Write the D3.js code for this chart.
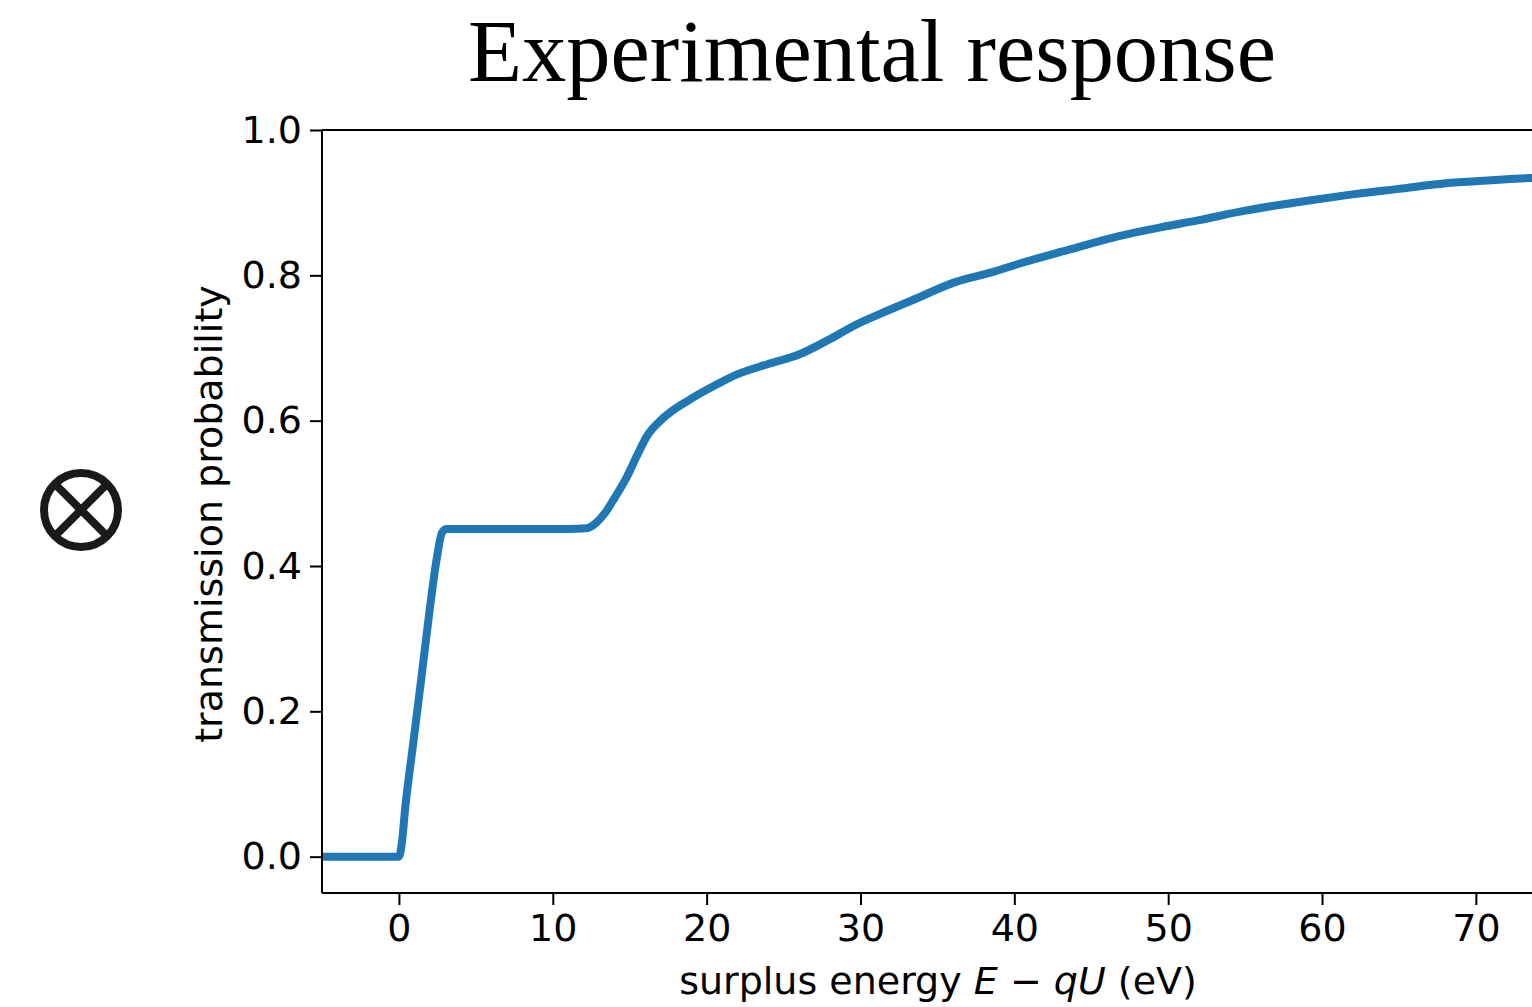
<!DOCTYPE html>
<html>
<head>
<meta charset="utf-8">
<script src="https://cdn.jsdelivr.net/npm/d3@7"></script>
<style>
  body { margin: 0; background: #fff; }
  svg { display: block; }
</style>
</head>
<body>
<svg id="svg" width="1532" height="1007"></svg>
<script>
// surplus energy (eV) and transmission probability
let energy = [-5, 0, 0.2, 0.4, 0.93, 1.47, 2.0, 2.45, 2.8, 3.1, 5, 8, 11, 12.2, 12.8, 13.4, 14.0, 14.8, 15.5, 16.1, 17.2, 18.9, 20.5, 21.9, 24, 26.0, 28, 29.7, 31.5, 33.4, 36.2, 38.5, 40.3, 43.5, 46.8, 49.5, 52.0, 55, 58.5, 61.5, 65, 68.2, 71, 73.6, 75];
let transmission = [0, 0, 0.02, 0.065, 0.156, 0.248, 0.34, 0.409, 0.446, 0.451, 0.451, 0.451, 0.451, 0.452, 0.459, 0.473, 0.493, 0.522, 0.553, 0.578, 0.604, 0.629, 0.648, 0.663, 0.678, 0.691, 0.712, 0.732, 0.749, 0.766, 0.791, 0.804, 0.816, 0.835, 0.854, 0.866, 0.876, 0.889, 0.901, 0.910, 0.919, 0.927, 0.931, 0.934, 0.936];
let xTicks = [0, 10, 20, 30, 40, 50, 60, 70];
let yTicks = [0.0, 0.2, 0.4, 0.6, 0.8, 1.0];

let svg = d3.select("#svg");
let padding = {top: 130, left: 322, bottom: 893};

let data = energy.map(function(e, i) { return {x: e, y: transmission[i]}; });

// x axis runs past the right edge of the picture (cropped)
let xScale = d3.scaleLinear().domain([-5, 75]).range([padding.left, padding.left + 80 * 15.385]);
let yScale = d3.scaleLinear().domain([-0.05, 1.0]).range([padding.bottom, padding.top]);

let fontSans = "'DejaVu Sans', sans-serif";
let fontSize = "38px";

// title
let title = svg.append("text")
  .attr("x", 872)
  .attr("y", 81)
  .attr("text-anchor", "middle")
  .style("font-family", "'Liberation Serif', serif")
  .style("font-size", "80px")
  .attr("fill", "#000")
  .text("Experimental response");
let tw = title.node().getComputedTextLength();
title.style("font-size", (80 * 808 / tw) + "px");

// the circled-times symbol on the left
let sym = svg.append("g").attr("transform", "translate(81,510)");
sym.append("circle").attr("r", 37).attr("fill", "none").attr("stroke", "#1a1a1a").attr("stroke-width", 8);
sym.append("line").attr("x1", -26).attr("y1", -26).attr("x2", 26).attr("y2", 26).attr("stroke", "#1a1a1a").attr("stroke-width", 8);
sym.append("line").attr("x1", 26).attr("y1", -26).attr("x2", -26).attr("y2", 26).attr("stroke", "#1a1a1a").attr("stroke-width", 8);

// curve
let line = d3.line()
  .x(function(d) { return xScale(d.x); })
  .y(function(d) { return yScale(d.y); })
  .curve(d3.curveMonotoneX);

svg.append("path")
  .datum(data)
  .attr("d", line)
  .attr("fill", "none")
  .attr("stroke", "#1f77b4")
  .attr("stroke-width", 8)
  .attr("stroke-linejoin", "round")
  .attr("stroke-linecap", "butt");

// axes
let xAxis = svg.append("g")
  .attr("transform", "translate(0," + padding.bottom + ")")
  .call(d3.axisBottom(xScale).tickValues(xTicks).tickSize(12).tickPadding(8).tickFormat(d3.format("d")));

let yAxis = svg.append("g")
  .attr("transform", "translate(" + padding.left + ",0)")
  .call(d3.axisLeft(yScale).tickValues(yTicks).tickSize(12).tickPadding(8).tickFormat(d3.format(".1f")));

[xAxis, yAxis].forEach(function(ax) {
  ax.select(".domain").remove();
  ax.selectAll("line").attr("stroke", "#000").attr("stroke-width", 2);
  ax.selectAll("text").attr("fill", "#000").style("font-family", fontSans).style("font-size", fontSize);
});
xAxis.selectAll("text").attr("dy", "0.74em");

// spines
svg.append("line").attr("x1", padding.left).attr("x2", padding.left).attr("y1", padding.top).attr("y2", padding.bottom)
  .attr("stroke", "#000").attr("stroke-width", 2);
svg.append("line").attr("x1", padding.left).attr("x2", 1532).attr("y1", padding.top).attr("y2", padding.top)
  .attr("stroke", "#000").attr("stroke-width", 2);
svg.append("line").attr("x1", padding.left).attr("x2", 1532).attr("y1", padding.bottom).attr("y2", padding.bottom)
  .attr("stroke", "#000").attr("stroke-width", 2);

// axis labels
let xl = svg.append("text")
  .attr("x", 938)
  .attr("y", 994)
  .attr("text-anchor", "middle")
  .style("font-family", fontSans)
  .style("font-size", fontSize)
  .attr("fill", "#000");
xl.append("tspan").text("surplus energy ");
xl.append("tspan").style("font-style", "italic").text("E");
xl.append("tspan").text(" \u2212 ");
xl.append("tspan").style("font-style", "italic").text("qU");
xl.append("tspan").text(" (eV)");

svg.append("text")
  .attr("transform", "translate(222,514) rotate(-90)")
  .attr("text-anchor", "middle")
  .style("font-family", fontSans)
  .style("font-size", fontSize)
  .attr("fill", "#000")
  .text("transmission probability");
</script>
</body>
</html>
